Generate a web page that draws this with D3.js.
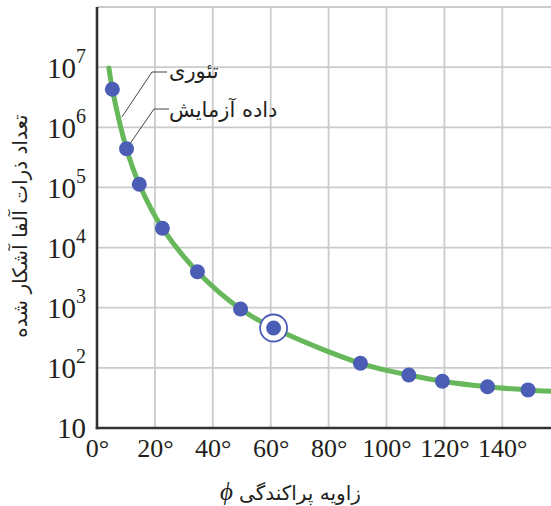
<!DOCTYPE html>
<html><head><meta charset="utf-8">
<script src="https://cdn.jsdelivr.net/npm/d3@7"></script>
<style>body{margin:0;background:#fff;overflow:hidden}</style>
</head><body>
<script>
// ---- data ----
const angleTicks = [0, 20, 40, 60, 80, 100, 120, 140];
const gridAngles = [20, 40, 60, 80, 100, 120, 140, 160];
const countTicks = [10, 1e2, 1e3, 1e4, 1e5, 1e6, 1e7];
const gridCounts = [1e2, 1e3, 1e4, 1e5, 1e6, 1e7, 1e8];
const dataAngles = [5.3, 10.2, 14.6, 22.6, 34.7, 49.6, 61, 91, 107.7, 119.3, 134.9, 148.9];
const dataCounts = [4.3e6, 4.4e5, 1.13e5, 2.1e4, 3.97e3, 950, 460, 119, 76, 60, 48.5, 43];
const theoryAngles = [4.1, 5.3, 10.2, 14.6, 22.6, 34.7, 49.6, 61, 91, 107.7, 119.3, 134.9, 148.9, 160];
const theoryCounts = [9.7e6, 4.3e6, 4.4e5, 1.13e5, 2.1e4, 3.97e3, 950, 460, 119, 76, 60, 48.5, 43, 40];
const highlightIndex = 6;
const theoryLabel = "تئوری";
const dataLabel = "داده آزمایش";
const theoryAnchor = [8.6, 1.48e6];
const dataAnchorIndex = 1;
const xTitle = "زاویه پراکندگی";
const yTitle = "تعداد ذرات آلفا آشکار شده";

// ---- layout ----
const W = 551, H = 506;
const x = d3.scaleLinear().domain([0, 160]).range([97, 97 + 8 * 57.9]);
const y = d3.scaleLog().domain([10, 1e8]).range([428, 7]);
const green = "#67b85b", blue = "#4c5db6", ink = "#231f20";
const serif = "'Liberation Serif', 'Times New Roman', serif";
const sans = "'DejaVu Sans', sans-serif";

const svg = d3.select("body").append("svg").attr("width", W).attr("height", H);

// grid
const grid = svg.append("g").attr("stroke", "#cbcbcb").attr("stroke-width", 1.8);
grid.selectAll("line.v").data(gridAngles).join("line")
  .attr("x1", d => x(d)).attr("x2", d => x(d)).attr("y1", y(1e8)).attr("y2", y(10));
grid.selectAll("line.h").data(gridCounts).join("line")
  .attr("y1", d => y(d)).attr("y2", d => y(d)).attr("x1", x(0)).attr("x2", W);

// axes
const xAxis = svg.append("g").attr("transform", `translate(0,${y(10)})`)
  .call(d3.axisBottom(x).tickValues(angleTicks).tickSize(0).tickFormat(d => d + "°"));
xAxis.select(".domain").remove();
xAxis.selectAll("text").attr("y", 29).attr("dy", 0)
  .attr("font-family", serif).attr("font-size", 26).attr("fill", ink);

const yAxis = svg.append("g").attr("transform", `translate(${x(0)},0)`)
  .call(d3.axisLeft(y).tickValues(countTicks).tickSize(0).tickFormat(() => ""));
yAxis.select(".domain").remove();
yAxis.selectAll(".tick text").each(function(d) {
  const t = d3.select(this).text("").attr("x", -11).attr("dy", "0.34em")
    .attr("font-family", serif).attr("font-size", 29).attr("fill", ink).attr("text-anchor", "end");
  const p = Math.round(Math.log10(d));
  t.append("tspan").text("10");
  if (p > 1) t.append("tspan").attr("font-size", 20).attr("dy", -15).text(p);
});

svg.append("line").attr("x1", x(0)).attr("x2", x(0)).attr("y1", y(1e8)).attr("y2", y(10) + 1.2)
  .attr("stroke", "#333").attr("stroke-width", 2.6);
svg.append("line").attr("x1", x(0) - 1.2).attr("x2", W).attr("y1", y(10)).attr("y2", y(10))
  .attr("stroke", "#333").attr("stroke-width", 2.6);

// theory curve
const line = d3.line().x(d => x(d[0])).y(d => y(d[1])).curve(d3.curveCatmullRom.alpha(0.5));
svg.append("path").datum(theoryAngles.map((a, i) => [a, theoryCounts[i]]))
  .attr("d", line).attr("fill", "none").attr("stroke", green).attr("stroke-width", 5)
  .attr("stroke-linecap", "round");

// data points
const pts = dataAngles.map((a, i) => [a, dataCounts[i]]);
svg.append("circle").attr("cx", x(pts[highlightIndex][0])).attr("cy", y(pts[highlightIndex][1]))
  .attr("r", 13.5).attr("fill", "#fff").attr("stroke", blue).attr("stroke-width", 1.8);
svg.selectAll("circle.pt").data(pts).join("circle").attr("class", "pt")
  .attr("cx", d => x(d[0])).attr("cy", d => y(d[1])).attr("r", 7.5).attr("fill", blue);

// annotations
function leader(tx, ty, elbowX, labelY) {
  svg.append("path")
    .attr("d", `M${tx},${ty}L${elbowX},${labelY}L${elbowX + 15},${labelY}`)
    .attr("fill", "none").attr("stroke", "#444").attr("stroke-width", 1);
}
leader(x(theoryAnchor[0]), y(theoryAnchor[1]), 152, 72);
{
  const cx = x(pts[dataAnchorIndex][0]), cy = y(pts[dataAnchorIndex][1]);
  const ex = 154, ey = 109, dx = ex - cx, dy = ey - cy, L = Math.hypot(dx, dy);
  leader(cx + dx / L * 7, cy + dy / L * 7, ex, ey);
}
svg.append("text").attr("x", 169).attr("y", 78).text(theoryLabel)
  .attr("font-family", sans).attr("font-size", 21).attr("fill", ink);
svg.append("text").attr("x", 169).attr("y", 117).text(dataLabel)
  .attr("font-family", sans).attr("font-size", 21).attr("fill", ink);

// axis titles
svg.append("text").attr("x", 239).attr("y", 500).text(xTitle)
  .attr("font-family", sans).attr("font-size", 20).attr("fill", ink);
svg.append("text").attr("x", 233).attr("y", 500).attr("text-anchor", "end").text("ϕ")
  .attr("font-family", serif).attr("font-style", "italic").attr("font-size", 25).attr("fill", ink);
svg.append("text").attr("transform", "translate(27,226) rotate(-90)").attr("text-anchor", "middle")
  .text(yTitle).attr("font-family", sans).attr("font-size", 20).attr("fill", ink);
</script>
</body></html>
